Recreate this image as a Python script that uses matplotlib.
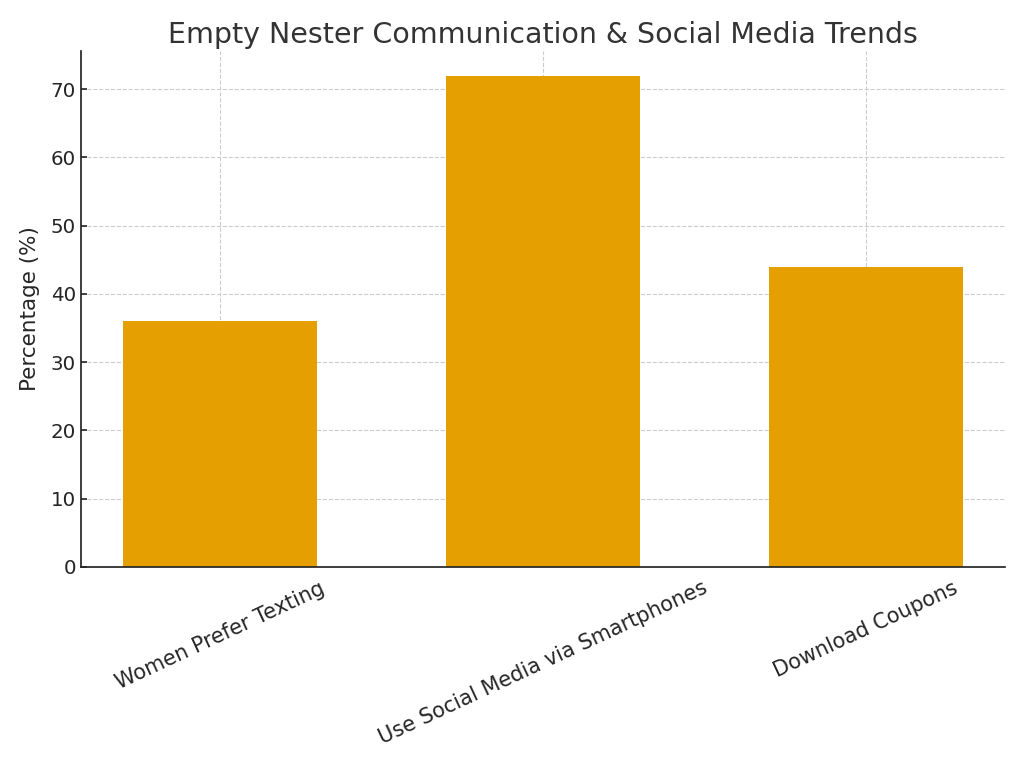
import matplotlib
matplotlib.use("Agg")
import matplotlib.pyplot as plt

categories = ["Women Prefer Texting", "Use Social Media via Smartphones", "Download Coupons"]
values = [36, 72, 44]

fig = plt.figure(figsize=(10.24, 7.68), dpi=100)
ax = fig.add_axes([81/1024, 1-567/768, (1005-81)/1024, (567-51)/768])
ax.bar(categories, values, width=0.6, color="#E69F00", zorder=2)
ax.set_title("Empty Nester Communication & Social Media Trends", fontsize=20.5, color="#333333", pad=6)
ax.set_ylabel("Percentage (%)", fontsize=15.5, color="#262626", labelpad=8)
ax.tick_params(axis="y", labelsize=14.3, colors="#262626", length=4, direction="in", width=1.2)
ax.tick_params(axis="x", labelsize=15, colors="#262626", length=4, direction="in", width=1.2, pad=8)
plt.setp(ax.get_xticklabels(), rotation=25, ha="center")
ax.grid(True, linestyle="--", color="#cccccc", linewidth=0.8, zorder=0)
ax.set_axisbelow(True)
ax.spines["top"].set_visible(False)
ax.spines["right"].set_visible(False)
for s in ("left", "bottom"):
    ax.spines[s].set_color("#262626")
    ax.spines[s].set_linewidth(1.25)
fig.savefig("out.png", dpi=100)
